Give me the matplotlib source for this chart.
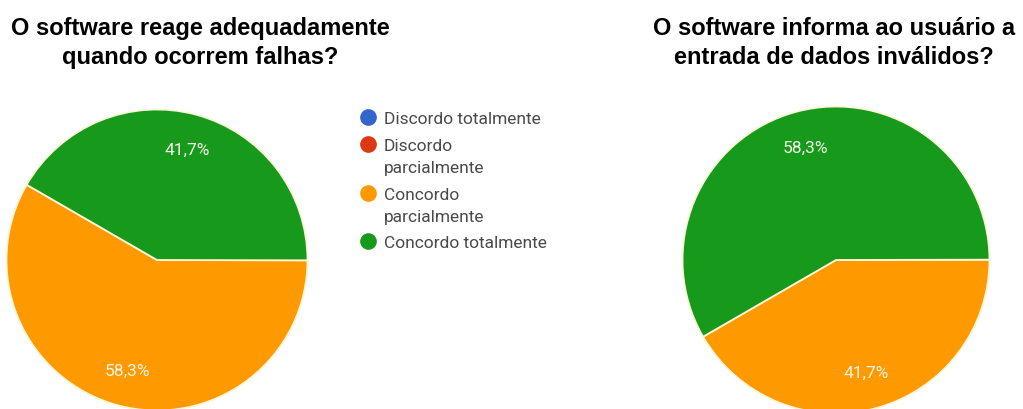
import matplotlib.pyplot as plt
from matplotlib.lines import Line2D

categories = ['Discordo totalmente', 'Discordo\nparcialmente',
              'Concordo\nparcialmente', 'Concordo totalmente']
colors = ['#3366CC', '#DC3912', '#FF9900', '#179A1C']

title_left = 'O software reage adequadamente\nquando ocorrem falhas?'
title_right = 'O software informa ao usuário a\nentrada de dados inválidos?'
values_left = [0.0, 0.0, 58.3, 41.7]
values_right = [0.0, 0.0, 41.7, 58.3]

W, H = 1023, 410
fig = plt.figure(figsize=(W / 100, H / 100), dpi=100)


def pie_axes(cx, cy, r):
    # cx, cy, r in pixels (y from top)
    return fig.add_axes([(cx - r) / W, (H - cy - r) / H, 2 * r / W, 2 * r / H])


def fmt(p):
    return '' if p < 0.05 else f'{p:.1f}%'.replace('.', ',')


def draw_pie(ax, vals, start):
    wedges, texts, autotexts = ax.pie(
        vals, colors=colors, startangle=start, counterclock=True,
        autopct=fmt, pctdistance=0.76,
        wedgeprops=dict(edgecolor='#fbf6d8', linewidth=1.3),
        textprops=dict(color='#f4f4e8', fontsize=12.5, family='Roboto'))
    ax.set_xlim(-1.01, 1.01)
    ax.set_ylim(-1.01, 1.01)
    ax.set_aspect('equal')
    ax.axis('off')


ax1 = pie_axes(157, 261, 152)
draw_pie(ax1, values_left, 150)
ax2 = pie_axes(836, 261, 155)
draw_pie(ax2, values_right, 210)

fig.text(200 / W, 1 - 43 / H, title_left, ha='center', va='center',
         fontsize=17, fontweight='bold', family='Liberation Sans',
         linespacing=1.35)
fig.text(834 / W, 1 - 43 / H, title_right, ha='center', va='center',
         fontsize=17, fontweight='bold', family='Liberation Sans',
         linespacing=1.35)

# legend
legend_y = [118, 145, 194, 242]
for lab, col, y in zip(categories, colors, legend_y):
    fig.add_artist(Line2D([368 / W], [1 - y / H], marker='o', markersize=11,
                          color=col, transform=fig.transFigure))
    fig.text(384 / W, 1 - (y - 6) / H, lab, ha='left', va='top',
             fontsize=12.5, family='Roboto', color='#4a4a4a', linespacing=1.55)

fig.savefig('out.png', dpi=100)
